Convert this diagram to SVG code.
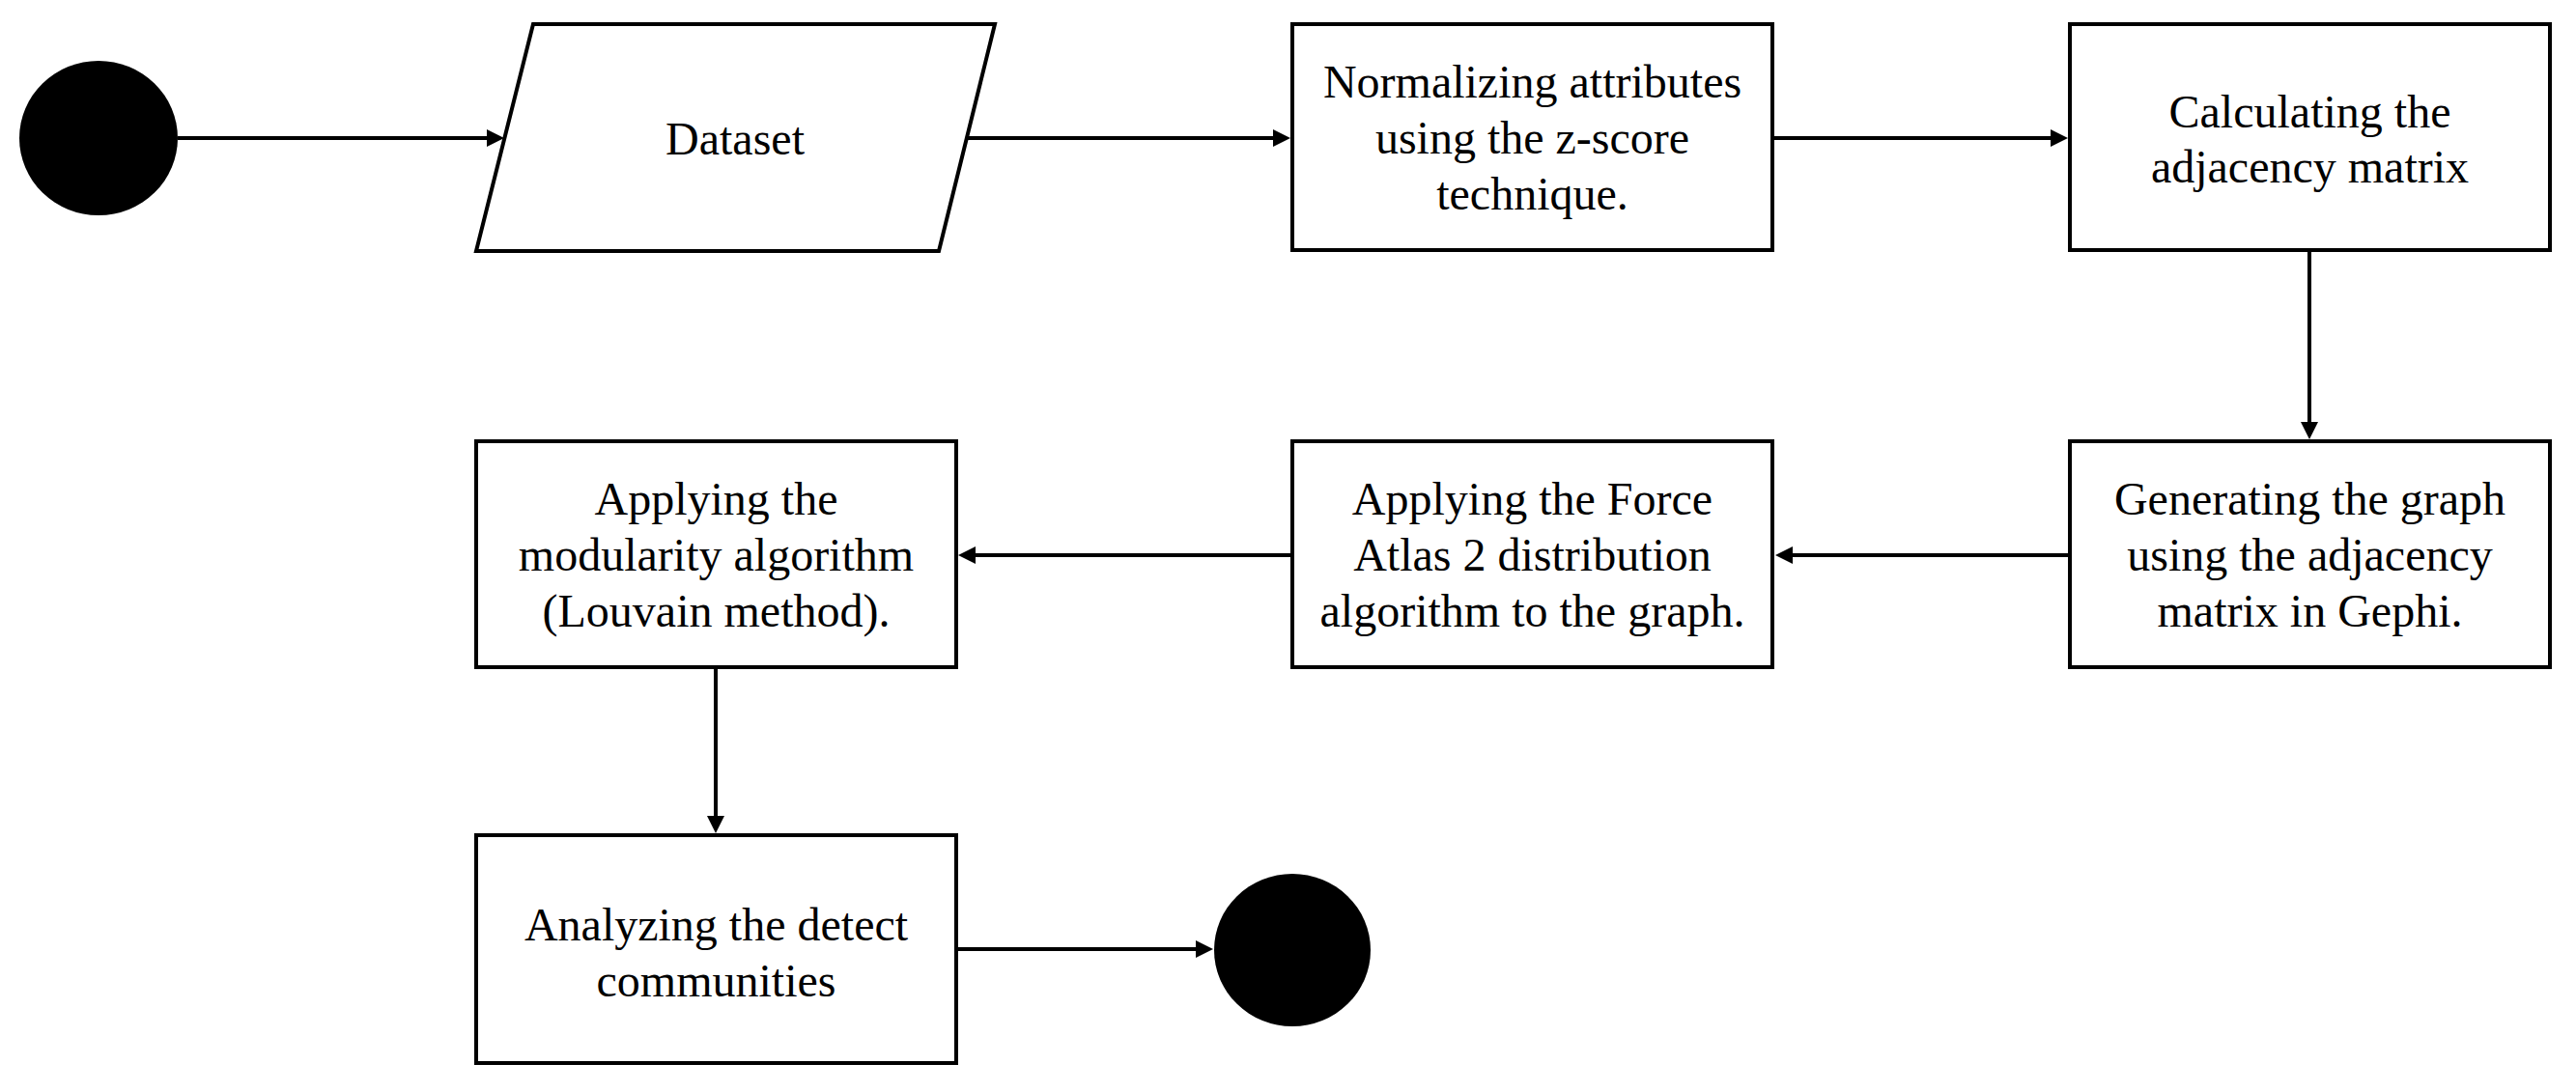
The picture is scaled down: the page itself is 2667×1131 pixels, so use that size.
<svg xmlns="http://www.w3.org/2000/svg" width="2667" height="1131" viewBox="0 0 2667 1131">
<defs>
<style>
.box{fill:#fff;stroke:#000;stroke-width:4}
.term{fill:#000;stroke:none}
.lbl{font-family:"Liberation Serif","Times New Roman",serif;font-size:48px;fill:#000;text-anchor:middle}
.conn{fill:none;stroke:#000;stroke-width:4}
</style>
<marker id="arr" markerUnits="userSpaceOnUse" markerWidth="18" markerHeight="18" refX="6" refY="9" orient="auto">
<path d="M0,0 L18,9 L0,18 Z" fill="#000"/>
</marker>
</defs>
<rect width="2667" height="1131" fill="#fff"/>
<g id="connectors">
<path class="conn" d="M184,143 H510" marker-end="url(#arr)"/>
<path class="conn" d="M1000,143 H1324" marker-end="url(#arr)"/>
<path class="conn" d="M1835,143 H2129" marker-end="url(#arr)"/>
<path class="conn" d="M2391,259 V443" marker-end="url(#arr)"/>
<path class="conn" d="M2143,575 H1850" marker-end="url(#arr)"/>
<path class="conn" d="M1338,575 H1004" marker-end="url(#arr)"/>
<path class="conn" d="M741,691 V851" marker-end="url(#arr)"/>
<path class="conn" d="M990,983 H1244" marker-end="url(#arr)"/>
</g>
<g id="start"><ellipse class="term" cx="102" cy="143" rx="82" ry="80"/></g>
<g id="dataset">
<polygon class="box" points="552,25 1030,25 972,260 493,260"/>
<text class="lbl" x="761" y="160">Dataset</text>
</g>
<g id="normalize">
<rect class="box" x="1338" y="25" width="497" height="234"/>
<text class="lbl"><tspan x="1586.5" y="101">Normalizing attributes</tspan><tspan x="1586.5" y="159">using the z-score</tspan><tspan x="1586.5" y="217">technique.</tspan></text>
</g>
<g id="adjacency">
<rect class="box" x="2143" y="25" width="497" height="234"/>
<text class="lbl"><tspan x="2391.5" y="132">Calculating the</tspan><tspan x="2391.5" y="189">adjacency matrix</tspan></text>
</g>
<g id="generate">
<rect class="box" x="2143" y="457" width="497" height="234"/>
<text class="lbl"><tspan x="2391.5" y="533">Generating the graph</tspan><tspan x="2391.5" y="591">using the adjacency</tspan><tspan x="2391.5" y="649">matrix in Gephi.</tspan></text>
</g>
<g id="forceatlas">
<rect class="box" x="1338" y="457" width="497" height="234"/>
<text class="lbl"><tspan x="1586.5" y="533">Applying the Force</tspan><tspan x="1586.5" y="591">Atlas 2 distribution</tspan><tspan x="1586.5" y="649">algorithm to the graph.</tspan></text>
</g>
<g id="modularity">
<rect class="box" x="493" y="457" width="497" height="234"/>
<text class="lbl"><tspan x="741.5" y="533">Applying the</tspan><tspan x="741.5" y="591">modularity algorithm</tspan><tspan x="741.5" y="649">(Louvain method).</tspan></text>
</g>
<g id="analyze">
<rect class="box" x="493" y="865" width="497" height="236"/>
<text class="lbl"><tspan x="741.5" y="974">Analyzing the detect</tspan><tspan x="741.5" y="1032">communities</tspan></text>
</g>
<g id="end"><ellipse class="term" cx="1338" cy="984" rx="81" ry="79"/></g>
</svg>
